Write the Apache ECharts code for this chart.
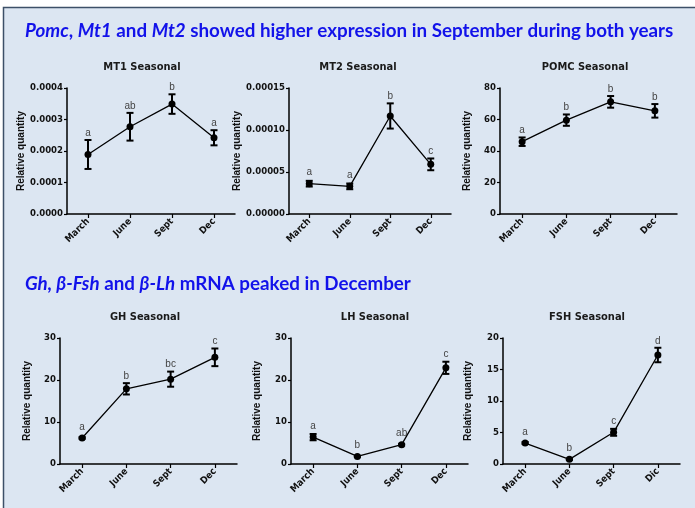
<!DOCTYPE html>
<html>
<head>
<meta charset="utf-8">
<script src="https://cdn.jsdelivr.net/npm/echarts@6/dist/echarts.min.js"></script>
<style>
html,body{margin:0;padding:0;background:#ffffff;}
#chart{width:695px;height:508px;}
</style>
</head>
<body>
<div id="chart"></div>
<script>
// ---- data ----
const categories = ['March', 'June', 'Sept', 'Dec'];
const fshCategories = ['March', 'June', 'Sept', 'Dic'];

const mt1Mean = [0.000189, 0.000277, 0.000349, 0.000242];
const mt1Err = [0.000046, 0.000044, 0.000031, 0.000024];
const mt1Letters = ['a', 'ab', 'b', 'a'];
const mt1Ticks = [0, 0.0004, 0.0001];

const mt2Mean = [0.0000361, 0.0000329, 0.0001167, 0.0000591];
const mt2Err = [0.0000034, 0.0000034, 0.0000150, 0.0000070];
const mt2Letters = ['a', 'a', 'b', 'c'];
const mt2Ticks = [0, 0.00015, 0.00005];

const pomcMean = [45.9, 59.6, 71.2, 65.5];
const pomcErr = [2.7, 3.6, 3.7, 4.3];
const pomcLetters = ['a', 'b', 'b', 'b'];
const pomcTicks = [0, 80, 20];

const ghMean = [6.2, 17.9, 20.2, 25.4];
const ghErr = [0.2, 1.35, 1.8, 2.1];
const ghLetters = ['a', 'b', 'bc', 'c'];
const ghTicks = [0, 30, 10];

const lhMean = [6.4, 1.8, 4.6, 22.9];
const lhErr = [0.75, 0.15, 0.2, 1.45];
const lhLetters = ['a', 'b', 'ab', 'c'];
const lhTicks = [0, 30, 10];

const fshMean = [3.33, 0.74, 5.03, 17.3];
const fshErr = [0.15, 0.1, 0.55, 1.15];
const fshLetters = ['a', 'b', 'c', 'd'];
const fshTicks = [0, 20, 5];

const panelTitles = ['MT1 Seasonal', 'MT2 Seasonal', 'POMC Seasonal', 'GH Seasonal', 'LH Seasonal', 'FSH Seasonal'];
const yName = 'Relative quantity';

// ---- layout / style ----
const panels = [
  {mean: mt1Mean, err: mt1Err, letters: mt1Letters, ticks: mt1Ticks, cats: categories, dec: 4,
   grid: {left: 67, top: 88, width: 168, height: 126}, nameGap: 39, tx: 137, ty: 57},
  {mean: mt2Mean, err: mt2Err, letters: mt2Letters, ticks: mt2Ticks, cats: categories, dec: 5,
   grid: {left: 289, top: 88, width: 162, height: 126}, nameGap: 45.5, tx: 353, ty: 57},
  {mean: pomcMean, err: pomcErr, letters: pomcLetters, ticks: pomcTicks, cats: categories, dec: 0,
   grid: {left: 500, top: 88, width: 177, height: 126}, nameGap: 28, tx: 580, ty: 57},
  {mean: ghMean, err: ghErr, letters: ghLetters, ticks: ghTicks, cats: categories, dec: 0,
   grid: {left: 60, top: 338, width: 177, height: 126}, nameGap: 27.5, tx: 140, ty: 307},
  {mean: lhMean, err: lhErr, letters: lhLetters, ticks: lhTicks, cats: categories, dec: 0,
   grid: {left: 291, top: 338, width: 177, height: 126}, nameGap: 28.5, tx: 370, ty: 307},
  {mean: fshMean, err: fshErr, letters: fshLetters, ticks: fshTicks, cats: fshCategories, dec: 0,
   grid: {left: 503, top: 338, width: 177, height: 126}, nameGap: 29.5, tx: 582, ty: 307}
];

const NARROW = '"Liberation Sans Narrow","Arial Narrow","DejaVu Sans Condensed","Liberation Sans",sans-serif';
const SANS = '"Liberation Sans",Arial,sans-serif';
const TITLE_FONT = 'Lato,"Open Sans",sans-serif';
const BLUE = '#1212ea';
const HEAD = 18.8;

const grids = [], xAxes = [], yAxes = [], series = [], titles = [];

const headRich = {
  i: {fontFamily: TITLE_FONT, fontSize: HEAD, fontWeight: 'bold', fontStyle: 'italic', color: BLUE},
  n: {fontFamily: TITLE_FONT, fontSize: HEAD, fontWeight: 'bold', color: BLUE}
};
titles.push({
  left: 20, top: 16,
  text: '{i|Pomc}{n|, }{i|Mt1}{n| and }{i|Mt2}{n| showed higher expression in September during both years}',
  textStyle: {rich: headRich}
});
titles.push({
  left: 20, top: 269,
  text: '{i|Gh, \u03B2-Fsh}{n| and }{i|\u03B2-Lh}{n| mRNA peaked in December}',
  textStyle: {rich: headRich}
});

panels.forEach((p, k) => {
  grids.push(Object.assign({containLabel: false}, p.grid));
  titles.push({
    text: panelTitles[k], left: p.tx, top: p.ty, textAlign: 'center',
    textStyle: {fontFamily: NARROW, fontSize: 11, fontWeight: 'bold', color: '#1a1a1a'}
  });
  xAxes.push({
    type: 'category', gridIndex: k, data: p.cats, boundaryGap: true,
    axisLine: {show: true, lineStyle: {color: '#000', width: 1.5}},
    axisTick: {show: true, alignWithLabel: true, length: 4, lineStyle: {color: '#000', width: 1.2}},
    axisLabel: {rotate: 45, interval: 0, margin: 6, fontFamily: NARROW, fontSize: 9.5, fontWeight: 'bold', color: '#111'},
    splitLine: {show: false}
  });
  yAxes.push({
    type: 'value', gridIndex: k, min: p.ticks[0], max: p.ticks[1], interval: p.ticks[2],
    name: yName, nameLocation: 'middle', nameGap: p.nameGap,
    nameTextStyle: {fontFamily: SANS, fontSize: 10, fontWeight: 'bold', color: '#111'},
    axisLine: {show: true, lineStyle: {color: '#000', width: 1.5}},
    axisTick: {show: true, length: 3, lineStyle: {color: '#000', width: 1.2}},
    axisLabel: {margin: 4, fontFamily: NARROW, fontSize: 9.5, fontWeight: 'bold', color: '#111',
      formatter: v => v.toFixed(p.dec)},
    splitLine: {show: false}
  });
  series.push({
    type: 'custom', xAxisIndex: k, yAxisIndex: k, z: 3,
    data: p.mean.map((m, i) => [i, m - p.err[i], m + p.err[i], m]),
    renderItem: (params, api) => {
      const x = api.value(0);
      const lo = api.coord([x, api.value(1)]);
      const hi = api.coord([x, api.value(2)]);
      const mid = api.coord([x, api.value(3)]);
      const cap = 3.5;
      const topY = Math.min(hi[1], mid[1] - 4);
      const letter = p.letters[params.dataIndex];
      return {
        type: 'group',
        children: [
          {type: 'line', shape: {x1: hi[0], y1: hi[1], x2: lo[0], y2: lo[1]}, style: {stroke: '#000', lineWidth: 2}},
          {type: 'line', shape: {x1: hi[0] - cap, y1: hi[1], x2: hi[0] + cap, y2: hi[1]}, style: {stroke: '#000', lineWidth: 2}},
          {type: 'line', shape: {x1: lo[0] - cap, y1: lo[1], x2: lo[0] + cap, y2: lo[1]}, style: {stroke: '#000', lineWidth: 2}},
          {type: 'text', x: hi[0], y: topY - 2,
           style: {text: letter, fill: '#444', font: '10px ' + SANS, align: 'center', verticalAlign: 'bottom'}}
        ]
      };
    }
  });
  series.push({
    type: 'line', xAxisIndex: k, yAxisIndex: k, z: 4,
    data: p.mean, symbol: 'circle', symbolSize: 7,
    lineStyle: {color: '#000', width: 1.3},
    itemStyle: {color: '#000'},
    animation: false
  });
});

const chart = echarts.init(document.getElementById('chart'), null, {renderer: 'canvas'});
chart.setOption({
  backgroundColor: 'transparent',
  animation: false,
  graphic: [{
    type: 'rect', z: -10, silent: true,
    shape: {x: 3.5, y: 7.5, width: 700, height: 510},
    style: {fill: '#dce6f2', stroke: '#3d5068', lineWidth: 1.5}
  }],
  title: titles,
  grid: grids,
  xAxis: xAxes,
  yAxis: yAxes,
  series: series
});
</script>
</body>
</html>
